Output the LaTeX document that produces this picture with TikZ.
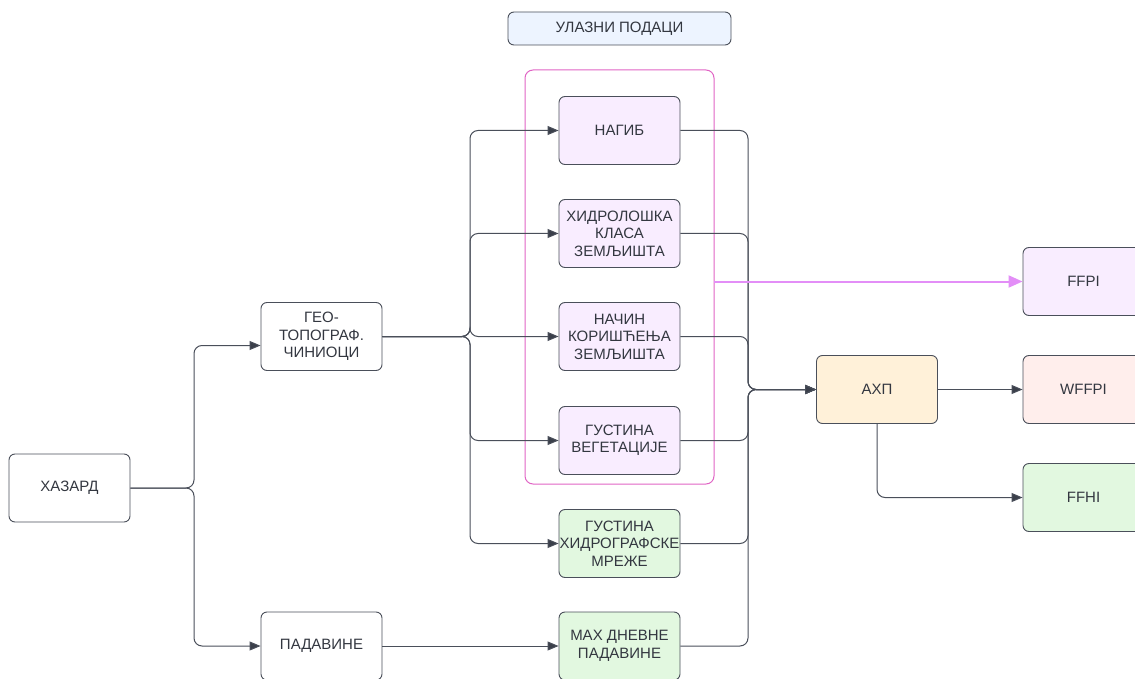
\documentclass[tikz,border=0pt]{standalone}
\usepackage{fontspec}
\setmainfont{Liberation Sans}
\usetikzlibrary{arrows.meta}

\definecolor{lnc}{HTML}{4A4F5A}
\definecolor{tipc}{HTML}{3A3F4A}
\definecolor{txt}{HTML}{333740}
\definecolor{ulazfill}{HTML}{EDF4FF}
\definecolor{lavfill}{HTML}{F9EDFF}
\definecolor{grnfill}{HTML}{E2F8E0}
\definecolor{ahpfill}{HTML}{FFF1D9}
\definecolor{redfill}{HTML}{FFEEEC}
\definecolor{grpline}{HTML}{E064C4}
\definecolor{arrowpink}{HTML}{E38EF7}

\tikzset{
  box/.style={draw=lnc, line width=0.9pt, rounded corners=6pt, fill=white,
    minimum width=121pt, minimum height=68pt, inner xsep=0pt,
    align=center, text=txt, font=\fontsize{15}{17.5}\selectfont},
  conn/.style={draw=lnc, line width=1pt, rounded corners=8pt,
    -{Triangle[length=11pt,width=9pt,fill=tipc]}},
  pinkconn/.style={color=arrowpink, line width=2pt,
    -{Triangle[length=14pt,width=12pt]}},
}

\begin{document}
\begin{tikzpicture}[x=1pt,y=-1pt]
\useasboundingbox (0,0) rectangle (1135,679);

% group of inputs
\node[draw=grpline, line width=1pt, rounded corners=8pt,
  minimum width=189pt, minimum height=414pt] (group) at (619.5,277) {};
\node[box, fill=ulazfill, minimum width=223pt, minimum height=33pt] (ulaz) at (619.5,28.5) {УЛАЗНИ ПОДАЦИ};

% left
\node[box] (hazard) at (69.5,488) {ХАЗАРД};
\node[box] (geo) at (321.5,336.5) {ГЕО-\\ТОПОГРАФ.\\ЧИНИОЦИ};
\node[box] (padavine) at (321.5,646) {ПАДАВИНЕ};

% middle
\node[box, fill=lavfill] (nagib) at (619.5,130.5) {НАГИБ};
\node[box, fill=lavfill] (hidro) at (619.5,233.5) {ХИДРОЛОШКА\\КЛАСА\\ЗЕМЉИШТА};
\node[box, fill=lavfill] (nacin) at (619.5,336.5) {НАЧИН\\КОРИШЋЕЊА\\ЗЕМЉИШТА};
\node[box, fill=lavfill] (veg) at (619.5,440.5) {ГУСТИНА\\ВЕГЕТАЦИЈЕ};
\node[box, fill=grnfill] (mreza) at (619.5,543.5) {ГУСТИНА\\\makebox[0pt]{ХИДРОГРАФСКЕ}\\МРЕЖЕ};
\node[box, fill=grnfill] (maxpad) at (619.5,646) {МАХ ДНЕВНЕ\\ПАДАВИНЕ};

% right
\node[box, fill=ahpfill] (ahp) at (877,389.5) {АХП};
\node[box, fill=lavfill] (ffpi) at (1083.5,281.5) {FFPI};
\node[box, fill=redfill] (wffpi) at (1083.5,389.5) {WFFPI};
\node[box, fill=grnfill] (ffhi) at (1083.5,497.5) {FFHI};

\coordinate (hsplit) at (194,488);
\coordinate (gsplit) at (470,336.5);
\coordinate (amerge) at (748,389.5);
\coordinate (gout) at (714,281.5);

\draw[conn] (hazard.east) -- (hsplit) |- ([yshift=-9pt]geo.west);
\draw[conn] (hazard.east) -- (hsplit) |- (padavine.west);
\foreach \n in {nagib,hidro,nacin,veg,mreza}
  \draw[conn] (geo.east) -- (gsplit) |- (\n.west);
\draw[conn] (padavine) -- (maxpad);
\foreach \n in {nagib,hidro,nacin,veg,mreza,maxpad}
  \draw[conn] (\n.east) -| (amerge) -- (ahp.west);
\draw[conn] (ahp) -- (wffpi);
\draw[conn] (ahp.south) |- (ffhi.west);
\draw[pinkconn] (gout) -- (ffpi.west);
\end{tikzpicture}
\end{document}
